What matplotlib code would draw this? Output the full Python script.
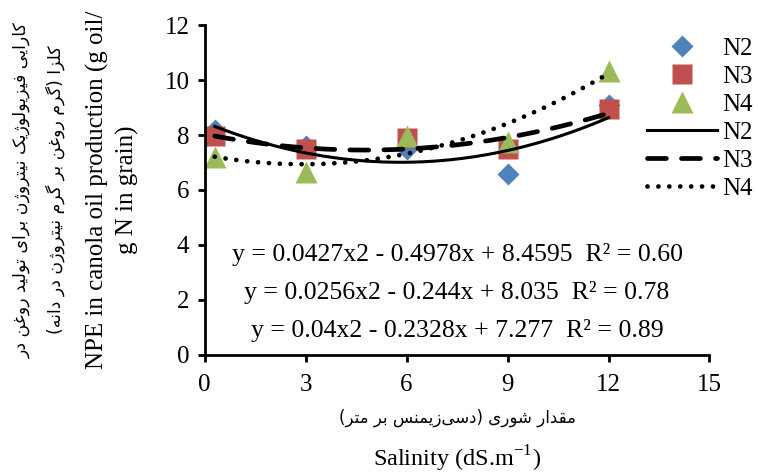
import numpy as np
import matplotlib
matplotlib.use('Agg')
import matplotlib.pyplot as plt

# values
salinity = [0.3, 3, 6, 9, 12]
n2 = [8.2, 7.6, 7.5, 6.6, 9.1]
n3 = [7.95, 7.5, 7.9, 7.5, 8.95]
n4 = [7.2, 6.65, 7.95, 7.75, 10.35]

# trendline coefficients (as printed on the chart)
fit_n2 = [0.0427, -0.4978, 8.4595]
fit_n3 = [0.0256, -0.244, 8.035]
fit_n4 = [0.04, -0.2328, 7.277]

eq_labels = ['y = 0.0427x2 - 0.4978x + 8.4595  R\u00b2 = 0.60',
             'y = 0.0256x2 - 0.244x + 8.035  R\u00b2 = 0.78',
             'y = 0.04x2 - 0.2328x + 7.277  R\u00b2 = 0.89']

xticks = [0, 3, 6, 9, 12, 15]
yticks = [0, 2, 4, 6, 8, 10, 12]

fa_ylab1 = 'کارایی فیزیولوژیک نیتروژن برای تولید روغن در'
fa_ylab2 = 'کلزا (گرم روغن بر گرم نیتروژن در دانه)'
en_ylab1 = 'NPE in canola oil production (g oil/'
en_ylab2 = 'g N in grain)'
fa_xlab = 'مقدار شوری (دسی\u200cزیمنس بر متر)'

# matplotlib does no arabic shaping, so do it by hand
# (isolated, final, initial, medial)
FORMS = {
    'ا': ('\uFE8D', '\uFE8E', None, None),
    'ب': ('\uFE8F', '\uFE90', '\uFE91', '\uFE92'),
    'ت': ('\uFE95', '\uFE96', '\uFE97', '\uFE98'),
    'د': ('\uFEA9', '\uFEAA', None, None),
    'ر': ('\uFEAD', '\uFEAE', None, None),
    'ز': ('\uFEAF', '\uFEB0', None, None),
    'ژ': ('\uFB8A', '\uFB8B', None, None),
    'س': ('\uFEB1', '\uFEB2', '\uFEB3', '\uFEB4'),
    'ش': ('\uFEB5', '\uFEB6', '\uFEB7', '\uFEB8'),
    'غ': ('\uFECD', '\uFECE', '\uFECF', '\uFED0'),
    'ف': ('\uFED1', '\uFED2', '\uFED3', '\uFED4'),
    'ق': ('\uFED5', '\uFED6', '\uFED7', '\uFED8'),
    'ک': ('\uFB8E', '\uFB8F', '\uFB90', '\uFB91'),
    'گ': ('\uFB92', '\uFB93', '\uFB94', '\uFB95'),
    'ل': ('\uFEDD', '\uFEDE', '\uFEDF', '\uFEE0'),
    'م': ('\uFEE1', '\uFEE2', '\uFEE3', '\uFEE4'),
    'ن': ('\uFEE5', '\uFEE6', '\uFEE7', '\uFEE8'),
    'ه': ('\uFEE9', '\uFEEA', '\uFEEB', '\uFEEC'),
    'و': ('\uFEED', '\uFEEE', None, None),
    'ی': ('\uFBFC', '\uFBFD', '\uFBFE', '\uFBFF'),
}


def shape(s):
    out = []
    for i, c in enumerate(s):
        if c not in FORMS:
            out.append(c)
            continue
        prev = s[i-1] if i > 0 else ''
        nxt = s[i+1] if i + 1 < len(s) else ''
        jp = prev in FORMS and FORMS[prev][2] is not None
        jn = FORMS[c][2] is not None and nxt in FORMS
        f = FORMS[c]
        if jp and jn:
            out.append(f[3])
        elif jp:
            out.append(f[1])
        elif jn:
            out.append(f[2])
        else:
            out.append(f[0])
    r = ''.join(out).replace('\u200c', '')[::-1]
    return r.translate(str.maketrans('()', ')('))


plt.rcParams['font.family'] = ['Liberation Serif', 'DejaVu Sans']
plt.rcParams['mathtext.fontset'] = 'custom'
plt.rcParams['mathtext.rm'] = 'Liberation Serif'
FA = ['DejaVu Sans']

fig = plt.figure(figsize=(7.58, 4.75), dpi=100)
ax = fig.add_axes([0.270, 0.253, 0.666, 0.694])

ax.plot(salinity, n2, 'D', color='#4F81BD', ms=11, mec='none', label='N2')
ax.plot(salinity, n3, 's', color='#C0504D', ms=14, mec='none', label='N3')
ax.plot(salinity, n4, '^', color='#9BBB59', ms=16, mec='none', label='N4')

xs = np.linspace(salinity[0], salinity[-1], 200)
ax.plot(xs, np.polyval(fit_n2, xs), color='black', lw=2.2, label='N2')
ax.plot(xs, np.polyval(fit_n3, xs), color='black', lw=3.4,
        linestyle=(0, (4, 3.2)), dash_capstyle='round', label='N3')
ax.plot(xs, np.polyval(fit_n4, xs), color='black', lw=3.4,
        linestyle=(0, (0.01, 2.3)), dash_capstyle='round', label='N4')

ax.set_xlim(0, 15)
ax.set_ylim(0, 12)
ax.set_xticks(xticks)
ax.set_yticks(yticks)
ax.tick_params(labelsize=18, width=2.0, length=5, pad=6, direction='out')
ax.tick_params(axis='x', pad=9)
for s in ['top', 'right']:
    ax.spines[s].set_visible(False)
for s in ['left', 'bottom']:
    ax.spines[s].set_linewidth(2.0)

for i, t in enumerate(eq_labels):
    ax.text(0.5, 0.305 - i * 0.115, t, transform=ax.transAxes, ha='center',
            va='center', fontsize=18.5)

fig.legend(loc='upper right', bbox_to_anchor=(1.006, 0.942), frameon=False,
           fontsize=18, handlelength=2.8, handletextpad=0.2, labelspacing=0.22,
           borderaxespad=0)

# axis titles
xc = 0.270 + 0.666 / 2
fig.text(xc, 0.12, shape(fa_xlab), ha='center', va='center',
         fontsize=12, family=FA)
fig.text(xc, 0.018, r'Salinity (dS.m$^{\mathregular{-1}}$)', ha='center',
         va='baseline', fontsize=17.5)
fig.text(0.029, 0.6, shape(fa_ylab1), rotation=90, ha='center', va='center',
         fontsize=12.5, family=FA)
fig.text(0.073, 0.6, shape(fa_ylab2), rotation=90, ha='center', va='center',
         fontsize=12.5, family=FA)
fig.text(0.128, 0.6, en_ylab1, rotation=90, ha='center', va='center', fontsize=18)
fig.text(0.168, 0.6, en_ylab2, rotation=90, ha='center', va='center', fontsize=18)

fig.savefig('out.png', dpi=100)
